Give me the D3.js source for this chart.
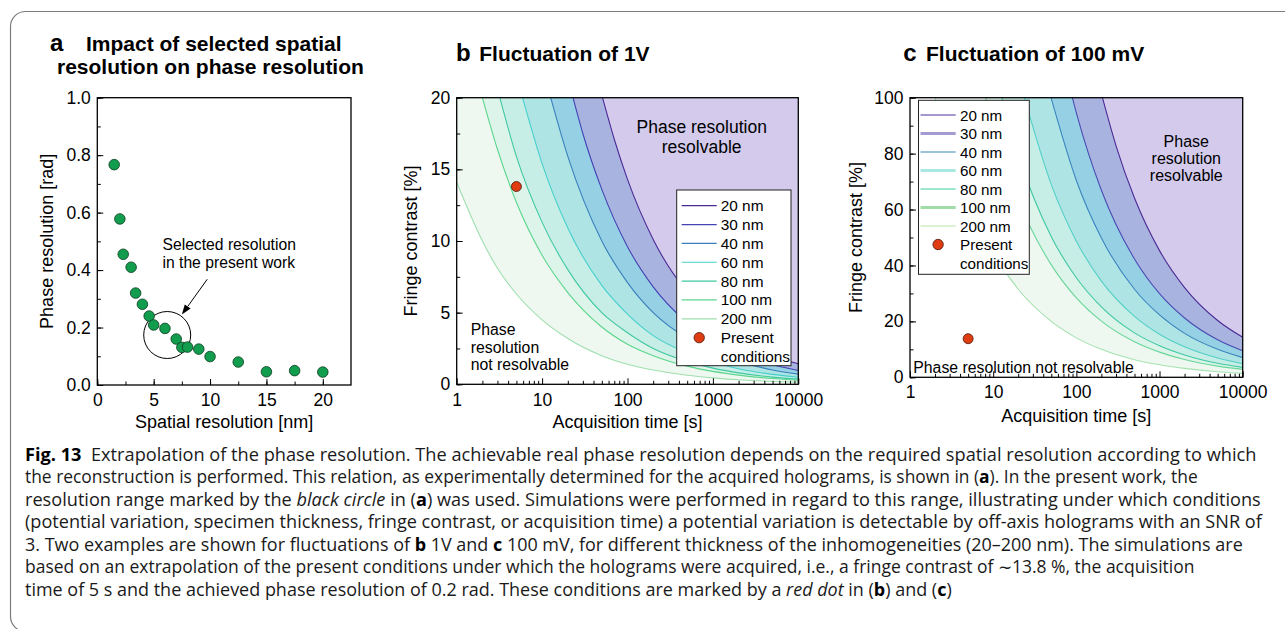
<!DOCTYPE html>
<html>
<head>
<meta charset="utf-8">
<script src="https://cdn.jsdelivr.net/npm/d3@7"></script>
<style>
  body { margin: 0; background: #fff; }
  svg { display: block; }
</style>
</head>
<body>
<svg id="fig" width="1285" height="629"></svg>
<script>
// ---------- Panel a: phase resolution vs spatial resolution ----------
const spatialRes = [1.5, 2, 2.3, 3, 3.4, 4, 4.6, 5, 6, 7, 7.5, 8, 9, 10, 12.5, 15, 17.5, 20];
const phaseRes   = [0.767, 0.578, 0.455, 0.41, 0.32, 0.281, 0.24, 0.209, 0.197, 0.16, 0.131, 0.132, 0.125, 0.099, 0.08, 0.046, 0.05, 0.045];
const aXTicks = [0, 5, 10, 15, 20];
const aYTicks = [0, 0.2, 0.4, 0.6, 0.8, 1.0];

// ---------- Panels b and c: threshold curves [acquisition time s, fringe contrast %] ----------
const thicknessLabels = ["20 nm", "30 nm", "40 nm", "60 nm", "80 nm", "100 nm", "200 nm"];
const timeTicks = [1, 10, 100, 1000, 10000];
const bYTicks = [0, 5, 10, 15, 20];
const cYTicks = [0, 20, 40, 60, 80, 100];

// fluctuation of 1 V
const v1_20nm  = [[51,20],[70,17.1],[100,14.3],[200,10.1],[500,6.4],[1000,4.5],[2000,3.2],[5000,2.0],[10000,1.43]];
const v1_30nm  = [[23,20],[30,17.5],[50,13.6],[100,9.6],[200,6.8],[500,4.3],[1000,3.0],[2000,2.15],[5000,1.36],[10000,0.96]];
const v1_40nm  = [[12.6,20],[20,15.9],[50,10.0],[100,7.1],[200,5.0],[500,3.2],[1000,2.25],[2000,1.6],[5000,1.0],[10000,0.71]];
const v1_60nm  = [[5.9,20],[10,15.4],[20,10.9],[50,6.9],[100,4.9],[200,3.4],[500,2.2],[1000,1.54],[2000,1.09],[5000,0.69],[10000,0.49]];
const v1_80nm  = [[3.2,20],[5,15.9],[10,11.3],[20,8.0],[50,5.0],[100,3.6],[200,2.5],[500,1.6],[1000,1.13],[2000,0.8],[5000,0.5],[10000,0.36]];
const v1_100nm = [[2.0,20],[3,16.4],[5,12.7],[10,9.0],[20,6.4],[50,4.0],[100,2.8],[200,2.0],[500,1.27],[1000,0.9],[2000,0.64],[5000,0.4],[10000,0.28]];
const v1_200nm = [[1,14.1],[2,10.0],[3,8.1],[5,6.3],[10,4.5],[20,3.2],[50,2.0],[100,1.4],[200,1.0],[500,0.63],[1000,0.45],[2000,0.32],[5000,0.2],[10000,0.14]];

// fluctuation of 100 mV
const mv100_20nm  = [[206,100],[300,82.8],[500,64.1],[1000,45.3],[2000,32.1],[5000,20.3],[10000,14.3]];
const mv100_30nm  = [[89.5,100],[100,94.6],[200,66.9],[500,42.3],[1000,29.9],[2000,21.2],[5000,13.4],[10000,9.46]];
const mv100_40nm  = [[49.6,100],[100,70.4],[200,49.8],[500,31.5],[1000,22.3],[2000,15.7],[5000,10.0],[10000,7.04]];
const mv100_60nm  = [[23.7,100],[50,68.9],[100,48.7],[200,34.4],[500,21.8],[1000,15.4],[2000,10.9],[5000,6.9],[10000,4.87]];
const mv100_80nm  = [[12.7,100],[20,79.6],[50,50.3],[100,35.6],[200,25.2],[500,15.9],[1000,11.3],[2000,8.0],[5000,5.0],[10000,3.56]];
const mv100_100nm = [[8.1,100],[10,90],[20,63.5],[50,40.2],[100,28.4],[200,20.1],[500,12.7],[1000,9.0],[2000,6.35],[5000,4.0],[10000,2.84]];
const mv100_200nm = [[2.0,100],[3,81.4],[5,63],[10,44.6],[20,31.5],[50,20],[100,14.1],[200,10],[500,6.3],[1000,4.5],[2000,3.2],[5000,2.0],[10000,1.41]];

// present working point: 5 s, 13.8 %
const presentTime = 5;
const presentContrast = 13.8;

// ---------- styling ----------
const FONT = "'Liberation Sans', Arial, Helvetica, sans-serif";
const bandFill   = ["#d3caec", "#a9b3df", "#96d0e4", "#afe4e4", "#c7eee6", "#dcf4ea", "#eef8f1"];
const lineColorB = ["#4b2a96", "#4242b4", "#3a80bc", "#45d0cc", "#3fc8a0", "#5cd68c", "#9fdfae"];
const lineColorC = ["#4b2a96", "#4a4cb4", "#3a86be", "#52cfc8", "#3fc8a0", "#6ad69a", "#a6e2b0"];
const legendC = [
  { color: "#5030a0", w: 1.2 },
  { color: "#a29cd2", w: 3 },
  { color: "#3a8abf", w: 1.2 },
  { color: "#a8e8e0", w: 3 },
  { color: "#3fd09a", w: 1.2 },
  { color: "#a0dca8", w: 3 },
  { color: "#b6e6a6", w: 1.2 }
];
const dotFill = "#e03c12";

const svg = d3.select("#fig");

// outer rounded border
svg.append("rect")
  .attr("x", 10.5).attr("y", 11.5).attr("width", 1320).attr("height", 620)
  .attr("rx", 15).attr("fill", "none").attr("stroke", "#7c7c7c").attr("stroke-width", 1.2);

function styleAxis(g, size) {
  g.attr("font-family", FONT).attr("font-size", size);
  g.select(".domain").remove();
  g.selectAll(".tick line").attr("stroke", "#000").attr("stroke-width", 1);
  g.selectAll(".tick text").attr("fill", "#000");
}

function frame(g, x0, y0, x1, y1) {
  g.append("rect").attr("x", x0).attr("y", y0).attr("width", x1 - x0).attr("height", y1 - y0)
    .attr("fill", "none").attr("stroke", "#000").attr("stroke-width", 1.3);
}

// ================= Panel a =================
(function panelA() {
  const g = svg.append("g");
  const x = d3.scaleLinear().domain([0, 22.5]).range([97.3, 351]);
  const y = d3.scaleLinear().domain([0, 1]).range([385, 97.7]);

  // minor ticks
  g.append("g").attr("transform", `translate(0,${y(0)})`)
    .call(d3.axisBottom(x).tickValues(d3.range(0, 22.5, 2.5)).tickSize(-3.5).tickFormat(""))
    .call(a => styleAxis(a, 17));
  g.append("g").attr("transform", `translate(${x(0)},0)`)
    .call(d3.axisLeft(y).tickValues(d3.range(0, 1.01, 0.1)).tickSize(-3.5).tickFormat(""))
    .call(a => styleAxis(a, 17));
  // major ticks
  g.append("g").attr("transform", `translate(0,${y(0)})`)
    .call(d3.axisBottom(x).tickValues(aXTicks).tickSize(-6).tickPadding(8.5).tickFormat(d3.format("d")))
    .call(a => styleAxis(a, 17.5));
  g.append("g").attr("transform", `translate(${x(0)},0)`)
    .call(d3.axisLeft(y).tickValues(aYTicks).tickSize(-6).tickPadding(6.5).tickFormat(d3.format(".1f")))
    .call(a => styleAxis(a, 17.5));
  frame(g, x(0), y(1), x(22.5), y(0));

  // selection circle and arrow
  g.append("circle").attr("cx", x(6.2)).attr("cy", y(0.174)).attr("r", 23.5)
    .attr("fill", "none").attr("stroke", "#000").attr("stroke-width", 1);
  const from = [x(9.75), y(0.368)], to = [x(7.5), y(0.245)];
  const ang = Math.atan2(to[1] - from[1], to[0] - from[0]);
  const hl = 10, hw = 3.6;
  const base = [to[0] - hl * Math.cos(ang), to[1] - hl * Math.sin(ang)];
  g.append("line").attr("x1", from[0]).attr("y1", from[1]).attr("x2", base[0]).attr("y2", base[1])
    .attr("stroke", "#000").attr("stroke-width", 1);
  g.append("path")
    .attr("d", `M${to[0]},${to[1]}L${base[0] - hw * Math.sin(ang)},${base[1] + hw * Math.cos(ang)}L${base[0] + hw * Math.sin(ang)},${base[1] - hw * Math.cos(ang)}Z`)
    .attr("fill", "#000");
  const ann = g.append("text").attr("font-family", FONT).attr("font-size", 15.7).attr("fill", "#000");
  ann.append("tspan").attr("x", x(5.78)).attr("y", y(0.47)).text("Selected resolution");
  ann.append("tspan").attr("x", x(5.78)).attr("y", y(0.408)).text("in the present work");

  // data points
  g.selectAll("circle.pt").data(spatialRes.map((s, i) => [s, phaseRes[i]])).join("circle")
    .attr("class", "pt").attr("cx", d => x(d[0])).attr("cy", d => y(d[1])).attr("r", 5.3)
    .attr("fill", "#119c4e").attr("stroke", "#0a3c1e").attr("stroke-width", 0.8);

  // titles
  g.append("text").attr("x", 50).attr("y", 51).attr("font-family", FONT).attr("font-weight", "bold")
    .attr("font-size", 24).text("a");
  g.append("text").attr("x", 86).attr("y", 50.7).attr("font-family", FONT).attr("font-weight", "bold")
    .attr("font-size", 21).text("Impact of selected spatial");
  g.append("text").attr("x", 57).attr("y", 74.3).attr("font-family", FONT).attr("font-weight", "bold")
    .attr("font-size", 21).text("resolution on phase resolution");

  g.append("text").attr("x", (x(0) + x(22.5)) / 2).attr("y", 428).attr("text-anchor", "middle")
    .attr("font-family", FONT).attr("font-size", 18).text("Spatial resolution [nm]");
  g.append("text").attr("transform", `translate(52.5,${(y(0) + y(1)) / 2}) rotate(-90)`)
    .attr("text-anchor", "middle").attr("font-family", FONT).attr("font-size", 18)
    .text("Phase resolution [rad]");
})();

// ================= Panels b and c =================
function contourPanel(o) {
  const g = svg.append("g");
  const x = d3.scaleLog().domain([1, 10000]).range([o.x0, o.x1]);
  const y = d3.scaleLinear().domain([0, o.ymax]).range([o.y1, o.y0]);

  const clipId = "clip-" + o.id;
  g.append("clipPath").attr("id", clipId).append("rect")
    .attr("x", o.x0).attr("y", o.y0).attr("width", o.x1 - o.x0).attr("height", o.y1 - o.y0);
  const plot = g.append("g").attr("clip-path", `url(#${clipId})`);

  const area = d3.area().x(d => x(d[0])).y0(y(o.ymax)).y1(d => y(d[1])).curve(d3.curveMonotoneX);
  const line = d3.line().x(d => x(d[0])).y(d => y(d[1])).curve(d3.curveMonotoneX);

  // bands: thickest (lowest) curve first, thinner layers painted on top
  for (let i = o.curves.length - 1; i >= 0; i--) {
    plot.append("path").attr("d", area(o.curves[i])).attr("fill", bandFill[i]);
  }
  for (let i = o.curves.length - 1; i >= 0; i--) {
    plot.append("path").attr("d", line(o.curves[i])).attr("fill", "none")
      .attr("stroke", o.lineColors[i]).attr("stroke-width", 1.1);
  }

  // axes
  const minorX = [];
  for (let p = 1; p < 10000; p *= 10) for (let k = 2; k <= 9; k++) minorX.push(p * k);
  g.append("g").attr("transform", `translate(0,${o.y1})`)
    .call(d3.axisBottom(x).tickValues(minorX).tickSize(-3.5).tickFormat(""))
    .call(a => styleAxis(a, 17));
  g.append("g").attr("transform", `translate(0,${o.y1})`)
    .call(d3.axisBottom(x).tickValues(timeTicks).tickSize(-6).tickPadding(o.xPad).tickFormat(d3.format("d")))
    .call(a => styleAxis(a, 17.5));
  const yMinor = d3.range(0, o.ymax + 1e-9, o.yMinorStep);
  g.append("g").attr("transform", `translate(${o.x0},0)`)
    .call(d3.axisLeft(y).tickValues(yMinor).tickSize(-3.5).tickFormat(""))
    .call(a => styleAxis(a, 17));
  g.append("g").attr("transform", `translate(${o.x0},0)`)
    .call(d3.axisLeft(y).tickValues(o.yTicks).tickSize(-6).tickPadding(6.5).tickFormat(d3.format("d")))
    .call(a => styleAxis(a, 17.5));
  frame(g, o.x0, o.y0, o.x1, o.y1);

  // present conditions
  g.append("circle").attr("cx", x(presentTime)).attr("cy", y(presentContrast)).attr("r", 5)
    .attr("fill", dotFill).attr("stroke", "#4a1405").attr("stroke-width", 0.8);

  // titles
  g.append("text").attr("x", o.letterX).attr("y", 60.7).attr("font-family", FONT).attr("font-weight", "bold")
    .attr("font-size", 24).text(o.letter);
  g.append("text").attr("x", o.titleX).attr("y", 60.7).attr("font-family", FONT).attr("font-weight", "bold")
    .attr("font-size", 21).text(o.title);
  g.append("text").attr("x", (o.x0 + o.x1) / 2).attr("y", o.xTitleY).attr("text-anchor", "middle")
    .attr("font-family", FONT).attr("font-size", 18).text("Acquisition time [s]");
  g.append("text").attr("transform", `translate(${o.yTitleX},${(o.y0 + o.y1) / 2}) rotate(-90)`)
    .attr("text-anchor", "middle").attr("font-family", FONT).attr("font-size", 18)
    .text("Fringe contrast [%]");

  // legend
  const L = o.legend;
  const lg = g.append("g");
  lg.append("rect").attr("x", L.x0).attr("y", L.y0).attr("width", L.x1 - L.x0).attr("height", L.y1 - L.y0)
    .attr("fill", "#fff").attr("stroke", "#222").attr("stroke-width", 1);
  thicknessLabels.forEach((lab, i) => {
    const cy = L.row0 + i * L.step;
    lg.append("line").attr("x1", L.lx0).attr("x2", L.lx1).attr("y1", cy).attr("y2", cy)
      .attr("stroke", L.styles[i].color).attr("stroke-width", L.styles[i].w);
    lg.append("text").attr("x", L.tx).attr("y", cy + 5.5).attr("font-family", FONT)
      .attr("font-size", L.font).text(lab);
  });
  const py = L.row0 + 7 * L.step;
  lg.append("circle").attr("cx", (L.lx0 + L.lx1) / 2).attr("cy", py).attr("r", 5.2)
    .attr("fill", dotFill).attr("stroke", "#4a1405").attr("stroke-width", 0.8);
  lg.append("text").attr("x", L.tx).attr("y", py + 5.5).attr("font-family", FONT).attr("font-size", L.font).text("Present");
  lg.append("text").attr("x", L.tx).attr("y", py + L.step + 5.5).attr("font-family", FONT).attr("font-size", L.font).text("conditions");

  // region annotations
  o.notes.forEach(n => {
    const t = g.append("text").attr("font-family", FONT).attr("font-size", n.size)
      .attr("text-anchor", n.anchor).attr("fill", "#000");
    n.lines.forEach((s, i) => t.append("tspan").attr("x", n.x).attr("y", n.y + i * n.lh).text(s));
  });
}

contourPanel({
  id: "b", x0: 456.7, x1: 798.3, y0: 97.7, y1: 384.3, ymax: 20,
  yTicks: bYTicks, yMinorStep: 2.5, xPad: 9,
  curves: [v1_20nm, v1_30nm, v1_40nm, v1_60nm, v1_80nm, v1_100nm, v1_200nm],
  lineColors: lineColorB,
  letter: "b", letterX: 456, title: "Fluctuation of 1V", titleX: 479.3,
  xTitleY: 428, yTitleX: 417.3,
  legend: {
    x0: 676.7, y0: 190, x1: 791, y1: 365.7, lx0: 681.7, lx1: 716.7, tx: 720.7,
    row0: 205.7, step: 18.85, font: 15.4,
    styles: lineColorB.map(c => ({ color: c, w: 1.2 }))
  },
  notes: [
    { x: 701.7, y: 133.3, lh: 20, size: 17.5, anchor: "middle", lines: ["Phase resolution", "resolvable"] },
    { x: 470.7, y: 335, lh: 17.5, size: 15.8, anchor: "start", lines: ["Phase", "resolution", "not resolvable"] }
  ]
});

contourPanel({
  id: "c", x0: 910, x1: 1242.7, y0: 97.7, y1: 377.3, ymax: 100,
  yTicks: cYTicks, yMinorStep: 10, xPad: 8.5,
  curves: [mv100_20nm, mv100_30nm, mv100_40nm, mv100_60nm, mv100_80nm, mv100_100nm, mv100_200nm],
  lineColors: lineColorC,
  letter: "c", letterX: 903.3, title: "Fluctuation of 100 mV", titleX: 926,
  xTitleY: 421.7, yTitleX: 861.5,
  legend: {
    x0: 918.5, y0: 100.3, x1: 1029.3, y1: 274.3, lx0: 920.5, lx1: 955.7, tx: 960,
    row0: 115, step: 18.5, font: 15.2,
    styles: legendC
  },
  notes: [
    { x: 1186.3, y: 146.7, lh: 17.3, size: 16, anchor: "middle", lines: ["Phase", "resolution", "resolvable"] },
    { x: 913.3, y: 372.5, lh: 0, size: 15.8, anchor: "start", lines: ["Phase resolution not resolvable"] }
  ]
});

// ================= Caption =================
const captionLines = [
  [["b", "Fig. 13"], ["", "  Extrapolation of the phase resolution. The achievable real phase resolution depends on the required spatial resolution according to which"]],
  [["", "the reconstruction is performed. This relation, as experimentally determined for the acquired holograms, is shown in ("], ["b", "a"], ["", "). In the present work, the"]],
  [["", "resolution range marked by the "], ["i", "black circle"], ["", " in ("], ["b", "a"], ["", ") was used. Simulations were performed in regard to this range, illustrating under which conditions"]],
  [["", "(potential variation, specimen thickness, fringe contrast, or acquisition time) a potential variation is detectable by off-axis holograms with an SNR of"]],
  [["", "3. Two examples are shown for fluctuations of "], ["b", "b"], ["", " 1V and "], ["b", "c"], ["", " 100 mV, for different thickness of the inhomogeneities (20–200 nm). The simulations are"]],
  [["", "based on an extrapolation of the present conditions under which the holograms were acquired, i.e., a fringe contrast of \u223C13.8 %, the acquisition"]],
  [["", "time of 5 s and the achieved phase resolution of 0.2 rad. These conditions are marked by a "], ["i", "red dot"], ["", " in ("], ["b", "b"], ["", ") and ("], ["b", "c"], ["", ")"]]
];
// right end of each caption line (ragged right)
const captionLineEnds = [1257, 1198, 1261, 1262, 1244, 1196, 952];
const capX = 25, capY0 = 460.7, capStep = 22.5;
const capG = svg.append("g");
captionLines.forEach((parts, i) => {
  const t = capG.append("text").attr("font-family", "'Open Sans', 'Noto Sans', sans-serif")
    .attr("font-size", 17.5).attr("fill", "#1a1a1a").style("white-space", "pre");
  parts.forEach(([st, s]) => {
    const ts = t.append("tspan").text(s);
    if (st === "b") ts.attr("font-weight", "bold").attr("fill", "#000");
    if (st === "i") ts.attr("font-style", "italic");
  });
  const sx = (captionLineEnds[i] - capX) / t.node().getComputedTextLength();
  t.attr("transform", `translate(${capX},${capY0 + i * capStep}) scale(${sx},1)`);
});
</script>
</body>
</html>
